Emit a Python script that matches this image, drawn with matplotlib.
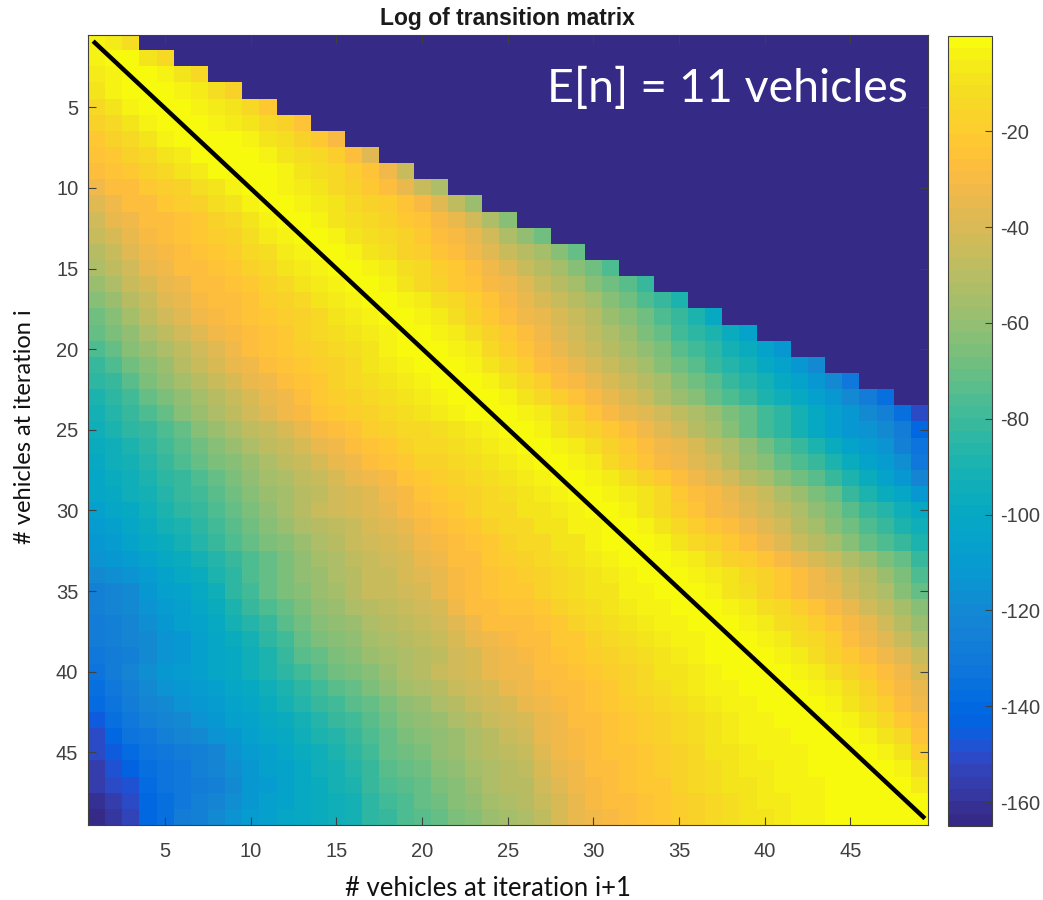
import matplotlib
matplotlib.use("Agg")
import matplotlib.pyplot as plt
from matplotlib.colors import ListedColormap
import numpy as np

plt.rcParams['axes.unicode_minus'] = False
plt.rcParams['font.family'] = ['Liberation Sans', 'DejaVu Sans']

W, H = 1043, 900
FLOOR = -165

# matlab parula(64)
parula = [
    [0.2081,0.1663,0.5292],[0.2116,0.1898,0.5777],[0.2123,0.2138,0.6270],[0.2081,0.2386,0.6771],
    [0.1959,0.2645,0.7279],[0.1707,0.2919,0.7792],[0.1253,0.3242,0.8303],[0.0591,0.3598,0.8683],
    [0.0117,0.3875,0.8820],[0.0060,0.4086,0.8828],[0.0165,0.4266,0.8786],[0.0329,0.4430,0.8720],
    [0.0498,0.4586,0.8641],[0.0629,0.4737,0.8554],[0.0723,0.4887,0.8467],[0.0779,0.5040,0.8384],
    [0.0793,0.5200,0.8312],[0.0749,0.5375,0.8263],[0.0641,0.5570,0.8240],[0.0488,0.5772,0.8228],
    [0.0343,0.5966,0.8199],[0.0265,0.6137,0.8135],[0.0239,0.6287,0.8038],[0.0231,0.6418,0.7913],
    [0.0228,0.6535,0.7768],[0.0267,0.6642,0.7607],[0.0384,0.6743,0.7436],[0.0590,0.6838,0.7254],
    [0.0843,0.6928,0.7062],[0.1133,0.7015,0.6859],[0.1453,0.7098,0.6646],[0.1801,0.7177,0.6424],
    [0.2178,0.7250,0.6193],[0.2586,0.7317,0.5954],[0.3022,0.7376,0.5712],[0.3482,0.7424,0.5473],
    [0.3953,0.7459,0.5244],[0.4420,0.7481,0.5033],[0.4871,0.7491,0.4840],[0.5300,0.7491,0.4661],
    [0.5709,0.7485,0.4494],[0.6099,0.7473,0.4337],[0.6473,0.7456,0.4188],[0.6834,0.7435,0.4044],
    [0.7184,0.7411,0.3905],[0.7525,0.7384,0.3768],[0.7858,0.7356,0.3633],[0.8185,0.7327,0.3498],
    [0.8507,0.7299,0.3360],[0.8824,0.7274,0.3217],[0.9139,0.7258,0.3063],[0.9450,0.7261,0.2886],
    [0.9739,0.7314,0.2666],[0.9938,0.7455,0.2403],[0.9990,0.7653,0.2164],[0.9955,0.7861,0.1967],
    [0.9880,0.8066,0.1794],[0.9789,0.8271,0.1633],[0.9697,0.8481,0.1475],[0.9626,0.8705,0.1309],
    [0.9589,0.8949,0.1132],[0.9598,0.9218,0.0948],[0.9661,0.9514,0.0755],[0.9763,0.9831,0.0538],
]

# one list per row (iteration i); cells past the end are empty
log_rows = [
    [-3,-7,-12],
    [-3,0,-2,-8,-13],
    [-6,-3,0,-1,-4,-9,-15],
    [-9,-5,-2,0,-1,-3,-7,-12,-18],
    [-13,-9,-5,-2,0,-1,-3,-6,-9,-14,-21],
    [-17,-13,-9,-5,-2,0,-1,-3,-6,-9,-13,-18,-25],
    [-21,-17,-13,-9,-5,-2,0,-1,-2,-5,-8,-12,-16,-21,-29],
    [-25,-22,-18,-14,-10,-6,-2,0,-1,-2,-5,-8,-11,-15,-20,-27,-38],
    [-28,-25,-22,-18,-14,-10,-6,-2,0,-1,-2,-5,-8,-11,-15,-19,-24,-32,-45],
    [-32,-28,-26,-23,-20,-16,-12,-8,-3,0,-1,-4,-7,-10,-13,-17,-22,-27,-34,-44,-54],
    [-37,-31,-28,-26,-23,-20,-16,-12,-8,-3,0,-1,-4,-7,-10,-13,-16,-20,-25,-30,-38,-48,-58],
    [-42,-36,-31,-28,-26,-24,-21,-17,-13,-8,-3,0,-1,-4,-8,-11,-14,-17,-21,-25,-30,-36,-43,-52,-62],
    [-46,-40,-34,-30,-27,-25,-23,-20,-16,-12,-7,-3,0,-1,-4,-8,-11,-14,-18,-22,-26,-30,-36,-42,-52,-60,-68],
    [-50,-44,-38,-33,-29,-27,-25,-23,-19,-15,-11,-7,-3,0,-1,-4,-8,-12,-16,-20,-24,-27,-31,-37,-44,-50,-56,-63,-72],
    [-54,-48,-42,-36,-32,-28,-26,-24,-22,-18,-14,-10,-7,-3,0,-1,-3,-7,-11,-15,-19,-23,-26,-32,-38,-44,-50,-56,-62,-69,-76],
    [-59,-53,-46,-40,-35,-31,-28,-26,-24,-21,-17,-13,-10,-7,-3,0,-1,-5,-9,-14,-18,-22,-25,-29,-33,-38,-44,-50,-56,-62,-68,-74,-82],
    [-64,-58,-51,-44,-38,-34,-30,-28,-26,-24,-20,-16,-13,-10,-6,-3,0,-1,-3,-7,-11,-15,-19,-24,-30,-34,-39,-44,-50,-56,-62,-68,-75,-82,-90],
    [-69,-63,-55,-48,-42,-37,-33,-30,-27,-25,-23,-19,-16,-13,-9,-6,-3,0,-1,-3,-7,-11,-17,-22,-27,-31,-35,-40,-45,-51,-57,-63,-69,-76,-82,-90,-98],
    [-72,-67,-60,-53,-47,-42,-37,-33,-29,-26,-24,-21,-18,-15,-12,-9,-6,-3,0,-1,-3,-6,-11,-17,-23,-27,-33,-38,-42,-47,-53,-59,-65,-71,-78,-84,-90,-97,-105],
    [-76,-71,-64,-58,-52,-47,-42,-37,-32,-28,-25,-23,-20,-17,-14,-11,-8,-5,-2,0,-1,-3,-7,-13,-19,-25,-30,-34,-39,-44,-50,-55,-61,-67,-73,-79,-85,-91,-97,-104,-112],
    [-81,-76,-69,-63,-57,-51,-46,-41,-36,-31,-28,-25,-22,-19,-16,-13,-10,-7,-4,-2,0,-1,-3,-8,-14,-20,-26,-30,-35,-40,-45,-50,-56,-62,-68,-74,-80,-86,-92,-98,-104,-111,-120],
    [-85,-80,-74,-67,-61,-55,-50,-45,-40,-35,-31,-28,-24,-21,-18,-15,-12,-10,-7,-4,-2,0,-1,-3,-8,-14,-20,-26,-30,-35,-40,-45,-50,-56,-62,-68,-74,-80,-86,-92,-98,-104,-111,-120,-130],
    [-89,-84,-78,-72,-66,-60,-55,-49,-44,-39,-35,-31,-27,-23,-20,-17,-14,-12,-9,-7,-4,-2,0,-1,-4,-8,-14,-20,-25,-30,-35,-40,-46,-52,-58,-64,-70,-76,-82,-88,-94,-100,-106,-112,-120,-128,-136],
    [-92,-87,-81,-75,-70,-64,-58,-53,-48,-43,-38,-33,-29,-25,-22,-19,-16,-13,-11,-9,-6,-4,-2,0,-1,-3,-7,-12,-18,-24,-30,-34,-38,-43,-48,-53,-59,-65,-71,-78,-85,-92,-99,-106,-113,-119,-125,-135,-150],
    [-95,-90,-85,-80,-75,-70,-64,-58,-53,-48,-44,-40,-35,-30,-26,-24,-20,-17,-15,-13,-11,-9,-6,-3,0,-1,-4,-8,-13,-18,-23,-28,-33,-38,-43,-49,-56,-63,-71,-78,-85,-92,-100,-106,-111,-116,-121,-128,-140],
    [-97,-93,-88,-83,-79,-74,-69,-63,-58,-53,-48,-44,-40,-36,-31,-27,-24,-21,-18,-15,-13,-11,-9,-6,-3,0,-1,-3,-7,-12,-17,-22,-27,-32,-36,-41,-47,-54,-61,-68,-75,-82,-89,-97,-104,-110,-115,-124,-134],
    [-99,-95,-91,-86,-82,-77,-72,-67,-62,-57,-52,-48,-44,-40,-36,-32,-28,-24,-21,-18,-16,-14,-11,-9,-6,-3,0,-1,-3,-7,-13,-19,-25,-29,-33,-38,-43,-50,-57,-63,-70,-75,-80,-88,-97,-104,-110,-118,-130],
    [-101,-97,-93,-89,-85,-80,-75,-70,-66,-61,-56,-52,-48,-44,-40,-36,-33,-29,-25,-22,-19,-17,-14,-12,-9,-6,-3,0,-1,-3,-6,-11,-17,-23,-28,-32,-37,-43,-49,-55,-62,-68,-74,-81,-89,-97,-104,-112,-122],
    [-103,-99,-95,-91,-87,-82,-78,-73,-69,-64,-59,-55,-51,-47,-43,-40,-37,-33,-29,-25,-22,-20,-17,-15,-12,-9,-6,-3,0,-1,-3,-6,-10,-15,-21,-26,-30,-35,-40,-46,-52,-58,-65,-72,-80,-88,-96,-103,-111],
    [-106,-102,-98,-93,-88,-84,-80,-75,-70,-65,-60,-55,-50,-46,-43,-40,-38,-34,-30,-27,-24,-21,-18,-15,-13,-10,-8,-6,-3,0,-1,-4,-8,-14,-20,-25,-29,-33,-37,-42,-48,-54,-60,-67,-74,-81,-87,-93,-100],
    [-109,-106,-102,-97,-92,-88,-83,-78,-73,-68,-63,-58,-54,-50,-47,-44,-41,-38,-34,-30,-27,-24,-21,-18,-15,-13,-10,-8,-5,-3,0,-1,-4,-8,-13,-19,-24,-28,-32,-37,-43,-49,-55,-62,-69,-76,-82,-88,-94],
    [-112,-109,-105,-100,-96,-92,-87,-82,-77,-72,-67,-62,-57,-53,-50,-46,-43,-41,-37,-33,-29,-26,-24,-21,-18,-15,-13,-10,-8,-5,-2,0,-1,-4,-8,-13,-18,-23,-27,-32,-38,-44,-50,-56,-63,-70,-76,-82,-88],
    [-116,-113,-109,-105,-100,-96,-92,-87,-80,-75,-70,-65,-60,-56,-52,-48,-45,-43,-40,-36,-31,-28,-26,-23,-20,-17,-14,-12,-9,-7,-4,-2,0,-1,-3,-7,-11,-16,-20,-24,-29,-34,-40,-46,-52,-58,-65,-72,-82],
    [-120,-117,-114,-109,-104,-100,-96,-90,-83,-77,-71,-66,-61,-57,-53,-49,-46,-44,-41,-38,-34,-30,-28,-25,-22,-19,-16,-13,-11,-8,-6,-4,-2,0,-1,-3,-6,-10,-14,-18,-23,-27,-32,-37,-44,-50,-58,-66,-75],
    [-124,-122,-119,-113,-108,-104,-100,-93,-85,-78,-72,-67,-62,-58,-55,-50,-46,-44,-42,-40,-35,-30,-26,-24,-22,-21,-18,-15,-12,-10,-8,-5,-3,-1,0,-1,-4,-8,-12,-16,-21,-26,-31,-36,-42,-48,-54,-62,-72],
    [-126,-123,-120,-115,-110,-106,-102,-96,-89,-82,-76,-70,-65,-61,-58,-54,-50,-47,-45,-43,-39,-33,-28,-26,-25,-24,-21,-18,-15,-12,-10,-7,-5,-3,-1,0,-1,-3,-7,-11,-15,-20,-25,-30,-36,-42,-48,-55,-64],
    [-127,-124,-122,-117,-112,-108,-104,-98,-92,-87,-80,-74,-68,-64,-61,-57,-53,-50,-48,-46,-42,-37,-32,-28,-27,-26,-24,-21,-18,-15,-12,-9,-7,-5,-3,-1,0,-1,-3,-7,-11,-15,-20,-25,-30,-36,-42,-50,-58],
    [-128,-126,-123,-119,-115,-111,-106,-101,-96,-92,-85,-78,-71,-67,-64,-60,-56,-53,-50,-48,-44,-40,-35,-31,-29,-28,-26,-23,-21,-18,-15,-12,-9,-7,-5,-3,-1,0,-1,-3,-7,-11,-15,-20,-26,-31,-37,-44,-52],
    [-130,-127,-124,-120,-116,-112,-108,-103,-98,-94,-88,-81,-74,-70,-67,-63,-59,-56,-53,-50,-47,-43,-39,-35,-31,-29,-27,-25,-22,-20,-17,-14,-11,-9,-6,-4,-2,-1,0,-1,-3,-7,-11,-16,-21,-27,-32,-38,-46],
    [-132,-127,-122,-117,-113,-110,-106,-103,-99,-95,-90,-85,-79,-73,-69,-66,-62,-57,-52,-49,-46,-43,-39,-36,-33,-31,-28,-26,-24,-22,-19,-16,-13,-10,-8,-6,-4,-2,-1,0,-1,-3,-7,-12,-17,-22,-27,-33,-41],
    [-135,-130,-125,-120,-116,-113,-110,-106,-102,-98,-93,-88,-83,-78,-74,-70,-66,-61,-56,-53,-50,-46,-42,-39,-36,-33,-30,-28,-26,-24,-21,-18,-15,-12,-10,-7,-5,-3,-2,-1,0,-1,-3,-7,-12,-18,-24,-29,-36],
    [-139,-133,-128,-123,-119,-116,-113,-109,-105,-101,-97,-92,-87,-82,-78,-74,-70,-65,-60,-57,-54,-50,-46,-42,-39,-36,-32,-29,-27,-25,-23,-20,-17,-14,-12,-9,-7,-5,-3,-2,-1,0,-1,-3,-8,-14,-20,-26,-32],
    [-146,-136,-131,-126,-122,-119,-116,-112,-108,-105,-100,-96,-91,-86,-82,-78,-74,-69,-64,-61,-58,-54,-50,-46,-42,-39,-34,-31,-28,-26,-24,-22,-19,-16,-13,-11,-8,-6,-4,-3,-2,-1,0,-1,-3,-8,-14,-21,-28],
    [-150,-141,-134,-130,-126,-122,-119,-116,-112,-108,-103,-99,-94,-90,-86,-82,-76,-71,-67,-64,-61,-57,-53,-49,-45,-42,-36,-32,-29,-27,-25,-23,-20,-18,-15,-12,-9,-7,-5,-4,-3,-2,-1,0,-1,-3,-8,-15,-24],
    [-152,-146,-138,-133,-130,-127,-124,-122,-116,-110,-106,-102,-97,-93,-89,-85,-78,-72,-68,-65,-61,-58,-54,-50,-47,-45,-38,-33,-29,-27,-25,-24,-21,-19,-16,-13,-10,-8,-6,-5,-4,-3,-2,-1,0,-1,-3,-9,-20],
    [-155,-149,-142,-136,-132,-129,-126,-123,-118,-112,-108,-104,-99,-95,-91,-87,-80,-74,-71,-68,-64,-60,-56,-52,-49,-47,-41,-35,-31,-28,-26,-25,-22,-20,-17,-14,-11,-9,-7,-6,-4,-3,-2,-1,-1,0,-1,-4,-12],
    [-157,-152,-147,-138,-134,-130,-127,-124,-119,-113,-109,-105,-100,-96,-92,-88,-82,-76,-73,-70,-66,-62,-58,-54,-51,-49,-43,-37,-33,-29,-27,-25,-23,-21,-18,-15,-12,-10,-8,-6,-5,-4,-3,-2,-1,-1,0,-1,-6],
    [-160,-155,-151,-140,-135,-129,-126,-123,-118,-112,-108,-104,-100,-97,-94,-91,-84,-78,-75,-72,-68,-64,-60,-56,-53,-51,-45,-39,-34,-30,-28,-26,-24,-22,-19,-16,-13,-11,-9,-7,-6,-4,-3,-2,-1,-1,0,0,-2],
    [-164,-158,-153,-141,-135,-128,-124,-120,-115,-110,-106,-103,-100,-97,-94,-92,-85,-80,-77,-74,-70,-66,-62,-58,-55,-53,-47,-41,-36,-31,-29,-27,-25,-23,-20,-17,-14,-12,-10,-8,-6,-5,-3,-2,-1,-1,-1,0,0],
]
line_x = [0.8, 49.35]
line_y = [0.9, 49.1]
xticks = [5, 10, 15, 20, 25, 30, 35, 40, 45]
yticks = [5, 10, 15, 20, 25, 30, 35, 40, 45]
cticks = [-20, -40, -60, -80, -100, -120, -140, -160]

mat = np.full((49, 49), float(FLOOR))
for i, r in enumerate(log_rows):
    mat[i, :len(r)] = r

def box(x0, y0, x1, y1):
    return [x0/W, 1-y1/H, (x1-x0)/W, (y1-y0)/H]

GREY = '#404040'
fig = plt.figure(figsize=(W/100, H/100), dpi=100)
ax = fig.add_axes(box(88, 34.7, 927.5, 825))
cax = fig.add_axes(box(948, 35.5, 992, 826))

im = ax.imshow(mat, cmap=ListedColormap(parula), vmin=FLOOR, vmax=0, aspect='auto',
               interpolation='nearest', extent=(0.5, 49.5, 49.5, 0.5))
ax.plot(line_x, line_y, color='black', lw=3.2, solid_capstyle='butt')
ax.set_xlim(0.5, 49.5)
ax.set_ylim(49.5, 0.5)
ax.set_xticks(xticks)
ax.set_yticks(yticks)
ax.tick_params(direction='in', length=6, width=0.8, top=True, right=True, labelsize=14.5,
               colors=GREY)
ax.tick_params(axis='x', pad=12)
ax.tick_params(axis='y', pad=7)
for s in ax.spines.values():
    s.set_color(GREY)
    s.set_linewidth(0.8)

cb = fig.colorbar(im, cax=cax)
cb.set_ticks(cticks)
cax.tick_params(direction='in', length=5, width=0.8, labelsize=14.5, colors=GREY, pad=6)
cb.outline.set_edgecolor(GREY)
cb.outline.set_linewidth(0.8)

fig.text(507/W, 1-18/H, 'Log of transition matrix', ha='center', va='center', fontsize=16.5,
         fontweight='bold', color='#1a1a1a')
fig.text(908/W, 1-88/H, 'E[n] = 11 vehicles', ha='right', va='center', fontsize=33.5,
         color='white', family='Lato')
fig.text(488/W, 1-888/H, '# vehicles at iteration i+1', ha='center', va='center', fontsize=18.5,
         color='#111111', family='Lato')
fig.text(25/W, 1-427/H, '# vehicles at iteration i', ha='center', va='center', rotation=90,
         fontsize=17, color='#111111', family='Lato')

fig.savefig('out.png', dpi=100)
